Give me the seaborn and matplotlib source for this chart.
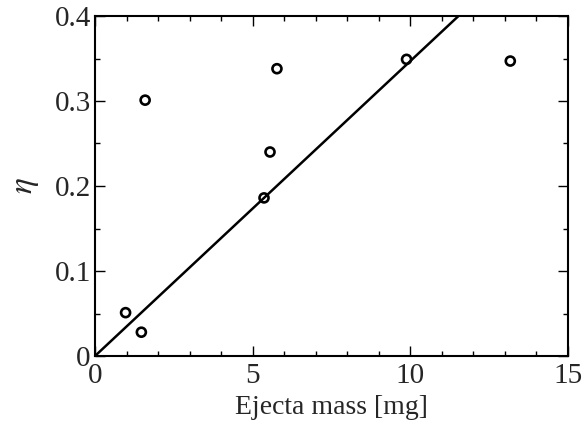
import matplotlib
matplotlib.use("Agg")
import matplotlib.pyplot as plt
from matplotlib.ticker import MultipleLocator, FuncFormatter
import seaborn as sns
import pandas as pd

# data
ejecta_mass = [0.97, 1.47, 1.59, 5.36, 5.55, 5.77, 9.88, 13.17]
eta = [0.051, 0.028, 0.301, 0.186, 0.240, 0.338, 0.349, 0.347]
fit_slope = 0.0347
fit_x = [0.0, 15.0]

sns.set_theme(style="ticks")
plt.rcParams['font.family'] = ['Liberation Serif', 'DejaVu Serif']
plt.rcParams['mathtext.fontset'] = 'stix'

fig = plt.figure(figsize=(5.83, 4.29), dpi=100)
ax = fig.add_axes([95/583, 73/429, 473/583, 340/429])

df = pd.DataFrame({"x": ejecta_mass, "y": eta})
fit_df = pd.DataFrame({"x": fit_x, "y": [fit_slope * v for v in fit_x]})

sns.lineplot(data=fit_df, x="x", y="y", ax=ax, color="black", linewidth=1.8)
sns.scatterplot(data=df, x="x", y="y", ax=ax, marker="o", s=42,
                facecolor="none", edgecolor="black", linewidth=1.9, zorder=3)

ax.set_xlim(0, 15)
ax.set_ylim(0, 0.4)
ax.xaxis.set_major_locator(MultipleLocator(5))
ax.xaxis.set_minor_locator(MultipleLocator(1))
ax.yaxis.set_major_locator(MultipleLocator(0.1))
ax.yaxis.set_minor_locator(MultipleLocator(0.05))
ax.xaxis.set_major_formatter(FuncFormatter(lambda v, p: f"{v:g}"))
ax.yaxis.set_major_formatter(FuncFormatter(lambda v, p: f"{v:g}"))

ax.tick_params(which="both", direction="in", top=True, right=True,
               color="black", width=1.0, labelsize=21)
ax.tick_params(axis="x", which="both", pad=5)
ax.tick_params(axis="y", which="both", pad=3)
ax.tick_params(which="major", length=7)
ax.tick_params(which="minor", length=3.5)
for s in ax.spines.values():
    s.set_linewidth(1.5)
    s.set_color("black")

ax.set_xlabel("Ejecta mass [mg]", fontsize=20, labelpad=4)
ax.set_ylabel(r"$\eta$", fontsize=24, labelpad=10)

fig.savefig("out.png", dpi=100)
